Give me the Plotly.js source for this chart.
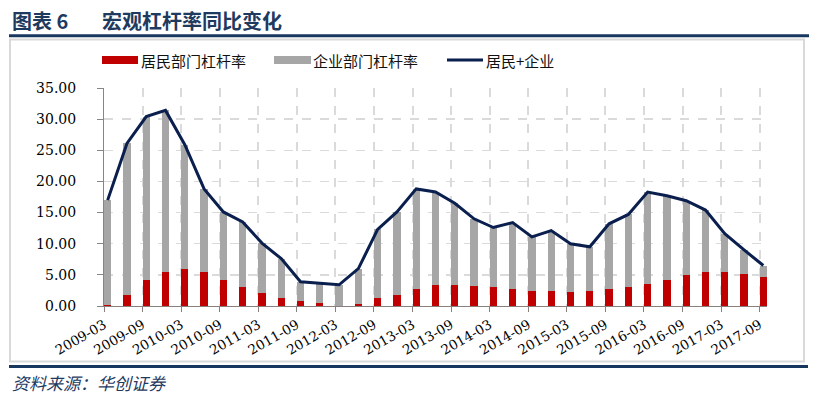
<!DOCTYPE html>
<html>
<head>
<meta charset="utf-8">
<script src="https://cdn.plot.ly/plotly-3.0.1.min.js"></script>
<style>html,body{margin:0;padding:0;background:#fff;}#chart{width:828px;height:399px;}</style>
</head>
<body>
<div id="chart"></div>
<script>
// Quarterly categories
const categories = ['2009-03','2009-06','2009-09','2009-12','2010-03','2010-06','2010-09','2010-12',
  '2011-03','2011-06','2011-09','2011-12','2012-03','2012-06','2012-09','2012-12',
  '2013-03','2013-06','2013-09','2013-12','2014-03','2014-06','2014-09','2014-12',
  '2015-03','2015-06','2015-09','2015-12','2016-03','2016-06','2016-09','2016-12',
  '2017-03','2017-06','2017-09'];
// 居民部门杠杆率
const householdRate = [0.1,1.8,4.1,5.4,5.9,5.4,4.1,3.1,2.1,1.3,0.8,0.5,0.05,0.3,1.3,1.8,
  2.7,3.4,3.4,3.2,3.0,2.7,2.4,2.4,2.3,2.4,2.8,3.1,3.5,4.2,5.0,5.5,5.5,5.1,4.7];
// 企业部门杠杆率
const enterpriseRate = [16.9,24.3,26.3,26.0,20.0,13.4,11.0,10.4,8.0,6.3,3.1,3.1,3.35,5.7,11.0,13.3,
  16.1,14.9,13.1,10.8,9.6,10.7,8.7,9.7,7.7,7.1,10.4,11.6,14.8,13.5,11.9,9.9,6.1,3.9,1.8];
// 居民+企业
const totalRate = [17.0,26.1,30.4,31.4,25.9,18.8,15.1,13.5,10.1,7.6,3.9,3.6,3.4,6.0,12.3,15.1,
  18.8,18.3,16.5,14.0,12.6,13.4,11.1,12.1,10.0,9.5,13.2,14.7,18.3,17.7,16.9,15.4,11.6,9.0,6.5];
// Axis tick labels (every second quarter)
const tickLabels = ['2009-03','2009-09','2010-03','2010-09','2011-03','2011-09','2012-03','2012-09',
  '2013-03','2013-09','2014-03','2014-09','2015-03','2015-09','2016-03','2016-09','2017-03','2017-09'];
const seriesNames = ['居民部门杠杆率','企业部门杠杆率','居民+企业'];

const idx = categories.map((c, i) => i);
const half = 0.19;
const tickVals = tickLabels.map(t => categories.indexOf(t) - half);

const L = 104, R = 61, T = 88, B = 93, FW = 828, FH = 399;
const W = FW - L - R, H = FH - T - B;
const px = x => (x - L) / W;
const py = y => (FH - B - y) / H;

const NAVY = '#17375E';
const traces = [
  {type:'bar', name:seriesNames[0], x:idx, y:householdRate, width:0.38,
   marker:{color:'#C00000', line:{width:0}}, showlegend:false, hoverinfo:'y'},
  {type:'bar', name:seriesNames[1], x:idx, y:enterpriseRate, width:0.38,
   marker:{color:'#A6A6A6', line:{width:0}}, showlegend:false, hoverinfo:'y'},
  {type:'scatter', mode:'lines', name:seriesNames[2], x:idx, y:totalRate,
   line:{color:'#0A1F4E', width:3}, showlegend:false, hoverinfo:'y'}
];

const shapes = [
  {type:'rect', xref:'paper', yref:'paper', x0:px(9), x1:px(809), y0:py(34.3), y1:py(37.3), fillcolor:NAVY, line:{width:0}},
  {type:'rect', xref:'paper', yref:'paper', x0:px(10), x1:px(804), y0:py(39.5), y1:py(361.5), line:{color:'#D9D9D9', width:2}},
  {type:'rect', xref:'paper', yref:'paper', x0:px(9), x1:px(808), y0:py(365), y1:py(368), fillcolor:NAVY, line:{width:0}},
  // legend swatches
  {type:'rect', xref:'paper', yref:'paper', x0:px(102), x1:px(138), y0:py(56), y1:py(64), fillcolor:'#C00000', line:{width:0}},
  {type:'rect', xref:'paper', yref:'paper', x0:px(274), x1:px(311), y0:py(56), y1:py(64), fillcolor:'#A6A6A6', line:{width:0}},
  {type:'line', xref:'paper', yref:'paper', x0:px(447), x1:px(483), y0:py(60), y1:py(60), line:{color:'#0A1F4E', width:3}}
];

const cjk = 'Noto Sans CJK SC';
const ann = (text, x, y, size, color, extra) => Object.assign({
  text, xref:'paper', yref:'paper', x:px(x), y:py(y), xanchor:'left', yanchor:'middle',
  showarrow:false, font:{family:cjk, size, color}
}, extra || {});

const annotations = [
  ann('<b>图表 6</b>', 10, 21, 20, '#1F3A5F'),
  ann('<b>宏观杠杆率同比变化</b>', 100, 21, 20, '#1F3A5F'),
  ann(seriesNames[0], 139, 60, 15, '#111'),
  ann(seriesNames[1], 311, 60, 15, '#111'),
  ann(seriesNames[2], 484, 60, 15, '#111'),
  ann('<i>资料来源：华创证券</i>', 10, 382, 17, '#1F3A5F')
];

const serif = 'DejaVu Serif';
const layout = {
  width: FW, height: FH,
  margin: {l:L, r:R, t:T, b:B, pad:0},
  paper_bgcolor:'#FFFFFF', plot_bgcolor:'#FFFFFF',
  barmode:'stack',
  showlegend:false,
  xaxis: {
    type:'linear', range:[-half, categories.length - 1 + half],
    tickmode:'array', tickvals:tickVals, ticktext:tickLabels, tickangle:-30,
    tickfont:{family:serif, size:13.5, color:'#000'},
    showgrid:true, gridcolor:'#DADADA', griddash:'dash', gridwidth:2,
    showline:true, linecolor:'#8A7F7F', linewidth:1,
    ticks:'outside', ticklen:5, tickcolor:'#8A7F7F', zeroline:false, fixedrange:true
  },
  yaxis: {
    range:[0,35], tick0:0, dtick:5, tickformat:'.2f',
    tickfont:{family:serif, size:14, color:'#000'},
    showgrid:true, gridcolor:'#DADADA', griddash:'dash', gridwidth:1.5,
    showline:true, linecolor:'#868686', linewidth:1,
    ticks:'outside', ticklen:6, tickcolor:'#868686', zeroline:false,
    ticklabelstandoff:18, fixedrange:true
  },
  shapes, annotations
};

Plotly.newPlot('chart', traces, layout, {displayModeBar:false, staticPlot:true});
</script>
</body>
</html>
